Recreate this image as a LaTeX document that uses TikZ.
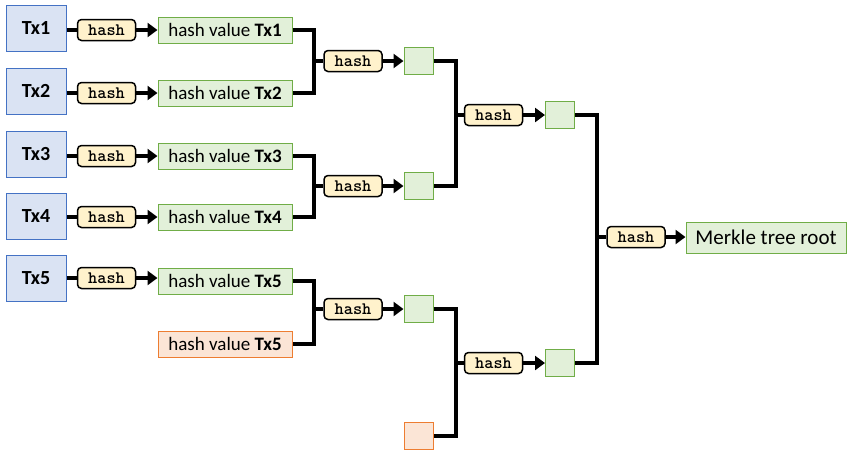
\documentclass[tikz,border=0pt]{standalone}
\usepackage{fontspec}
\setmainfont{Carlito}
\newfontfamily\hashfont{lmmonolt10-bold}[Extension=.otf]
\usetikzlibrary{arrows.meta}
\definecolor{txfill}{HTML}{DAE3F3}
\definecolor{txdraw}{HTML}{4472C4}
\definecolor{gfill}{HTML}{E2F0D9}
\definecolor{gdraw}{HTML}{70AD47}
\definecolor{ofill}{HTML}{FBE5D6}
\definecolor{odraw}{HTML}{ED7D31}
\definecolor{hfill}{HTML}{FFF2CC}
\tikzset{
  txbox/.style={draw=txdraw, fill=txfill, line width=1pt, minimum width=60pt, minimum height=46pt, inner sep=0pt, font=\fontsize{20}{22}\selectfont\bfseries},
  hashbox/.style={draw=black, fill=hfill, line width=1.5pt, rounded corners=4pt, minimum width=58pt, minimum height=21pt, inner sep=0pt, font=\hashfont\fontsize{17.5}{18}\selectfont},
  hvbox/.style={draw=gdraw, fill=gfill, line width=1pt, minimum width=134pt, minimum height=26pt, inner sep=0pt, font=\fontsize{19}{21}\selectfont},
  hvobox/.style={hvbox, draw=odraw, fill=ofill},
  gsq/.style={draw=gdraw, fill=gfill, line width=1pt, minimum width=29pt, minimum height=27pt, inner sep=0pt},
  osq/.style={gsq, draw=odraw, fill=ofill},
  conn/.style={line width=3.2pt, black},
  arr/.style={conn, -{Triangle[length=10pt,width=14pt]}},
  brk/.style={conn, line join=miter},
}
\begin{document}
\begin{tikzpicture}[x=1pt,y=-1pt]
\useasboundingbox (0,0) rectangle (850,453);
% Tx boxes
\node[txbox] (tx1) at (36,28.5) {Tx1};
\node[txbox] (tx2) at (36,91) {Tx2};
\node[txbox] (tx3) at (36,154) {Tx3};
\node[txbox] (tx4) at (36,216) {Tx4};
\node[txbox] (tx5) at (36,278) {Tx5};
% first hash column
\node[hashbox] (h1) at (106.5,30) {hash};
\node[hashbox] (h2) at (106.5,93) {hash};
\node[hashbox] (h3) at (106.5,156) {hash};
\node[hashbox] (h4) at (106.5,217) {hash};
\node[hashbox] (h5) at (106.5,278) {hash};
% hash values
\node[hvbox] (v1) at (225,30) {hash value \textbf{Tx1}};
\node[hvbox] (v2) at (225,93) {hash value \textbf{Tx2}};
\node[hvbox] (v3) at (225,156) {hash value \textbf{Tx3}};
\node[hvbox] (v4) at (225,217) {hash value \textbf{Tx4}};
\node[hvbox] (v5) at (225,281) {hash value \textbf{Tx5}};
\node[hvobox] (v6) at (225,344) {hash value \textbf{Tx5}};
% level 1 hashes and squares
\node[hashbox] (g1) at (353,61) {hash};
\node[hashbox] (g2) at (353,186) {hash};
\node[hashbox] (g3) at (353,309) {hash};
\node[gsq] (s1) at (418.5,61) {};
\node[gsq] (s2) at (418.5,186) {};
\node[gsq] (s3) at (418.5,309) {};
\node[osq] (s4) at (418.5,436) {};
% level 2
\node[hashbox] (k1) at (493.5,115) {hash};
\node[hashbox] (k2) at (493.5,363) {hash};
\node[gsq] (t1) at (560,115) {};
\node[gsq] (t2) at (560,363) {};
% level 3
\node[hashbox] (m1) at (636,237) {hash};
\node[draw=gdraw, fill=gfill, line width=1pt, minimum width=160pt, minimum height=31pt, inner sep=0pt, font=\fontsize{21}{24}\selectfont] (root) at (766,237.5) {Merkle tree root};
% Tx -> hash -> value
\foreach \i in {1,...,5}{
  \draw[conn] (tx\i.east |- h\i) -- (h\i.west);
  \draw[arr] (h\i.east) -- (v\i.west |- h\i);
}
% junctions
\coordinate (j1) at (314,61);
\coordinate (j2) at (314,186);
\coordinate (j3) at (314,309);
\coordinate (j4) at (456,115);
\coordinate (j5) at (456,363);
\coordinate (j6) at (597,237);
\draw[brk] (v1.east) -| (j1) |- (v2.east);
\draw[brk] (v3.east) -| (j2) |- (v4.east);
\draw[brk] (v5.east) -| (j3) |- (v6.east);
\draw[conn] (j1) -- (g1.west);
\draw[conn] (j2) -- (g2.west);
\draw[conn] (j3) -- (g3.west);
\draw[arr] (g1.east) -- (s1.west);
\draw[arr] (g2.east) -- (s2.west);
\draw[arr] (g3.east) -- (s3.west);
\draw[brk] (s1.east) -| (j4) |- (s2.east);
\draw[brk] (s3.east) -| (j5) |- (s4.east);
\draw[conn] (j4) -- (k1.west);
\draw[conn] (j5) -- (k2.west);
\draw[arr] (k1.east) -- (t1.west);
\draw[arr] (k2.east) -- (t2.west);
\draw[brk] (t1.east) -| (j6) |- (t2.east);
\draw[conn] (j6) -- (m1.west);
\draw[arr] (m1.east) -- (root.west |- m1);
\end{tikzpicture}
\end{document}
